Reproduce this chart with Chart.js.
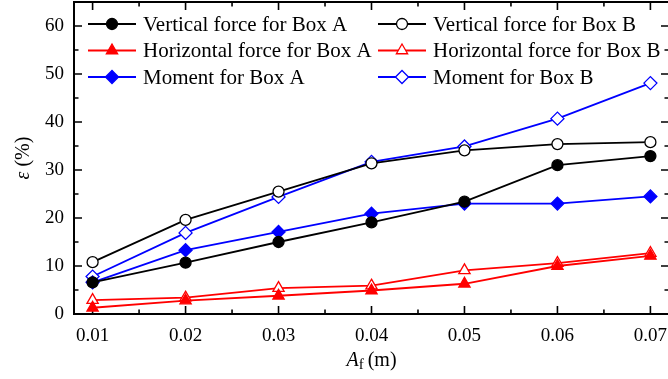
<!DOCTYPE html>
<html>
<head>
<meta charset="utf-8">
<style>
  html, body { margin: 0; padding: 0; background: #fff; overflow: hidden; }
  canvas { display: block; }
</style>
<script src="https://cdn.jsdelivr.net/npm/chart.js@4/dist/chart.umd.min.js"></script>
</head>
<body>
<canvas id="chart" width="680" height="379"></canvas>
<script>
// Relative error (%) against friction amplitude A_f (m)
const amplitudes = [0.01, 0.02, 0.03, 0.04, 0.05, 0.06, 0.07];
const verticalA   = [6.6, 10.7, 15.0, 19.1, 23.4, 31.0, 32.9];
const verticalB   = [10.8, 19.6, 25.5, 31.4, 34.1, 35.4, 35.8];
const horizontalA = [1.3, 2.8, 3.8, 4.9, 6.3, 10.0, 12.1];
const horizontalB = [2.9, 3.4, 5.4, 5.9, 9.1, 10.6, 12.7];
const momentA     = [6.6, 13.3, 17.1, 20.9, 23.0, 23.0, 24.5];
const momentB     = [7.8, 16.9, 24.4, 31.7, 34.9, 40.7, 48.1];

const xTicks = [0.01, 0.02, 0.03, 0.04, 0.05, 0.06, 0.07];
const xTickLabels = ['0.01', '0.02', '0.03', '0.04', '0.05', '0.06', '0.07'];
const yTicks = [0, 10, 20, 30, 40, 50, 60];
const yTickLabels = ['0', '10', '20', '30', '40', '50', '60'];

const SERIF = '"Liberation Serif", "Times New Roman", serif';

function series(label, values, color, style, filled) {
  return {
    label,
    data: amplitudes.map((x, i) => ({ x, y: values[i] })),
    borderColor: color,
    backgroundColor: filled ? color : '#ffffff',
    borderWidth: 1.8,
    pointStyle: style,
    pointRadius: style === 'circle' ? 5.5 : 6.5,
    pointBorderWidth: 1.3,
    pointBackgroundColor: filled ? color : '#ffffff',
    pointBorderColor: color,
    tension: 0,
    fill: false
  };
}

const datasets = [
  series('Vertical force for Box A', verticalA, '#000000', 'circle', true),
  series('Vertical force for Box B', verticalB, '#000000', 'circle', false),
  series('Horizontal force for Box A', horizontalA, '#ff0000', 'triangle', true),
  series('Horizontal force for Box B', horizontalB, '#ff0000', 'triangle', false),
  series('Moment for Box A', momentA, '#0000ff', 'rectRot', true),
  series('Moment for Box B', momentB, '#0000ff', 'rectRot', false)
];

// Frame with inward major/minor ticks on all four sides
const framePlugin = {
  id: 'frame',
  beforeDatasetsDraw(chart) {
    const { ctx, chartArea: a, scales: { x, y } } = chart;
    ctx.save();
    ctx.strokeStyle = '#000';
    ctx.lineWidth = 1.6;
    const major = 8, minor = 4.5;
    ctx.beginPath();
    xTicks.forEach((v, i) => {
      const px = x.getPixelForValue(v);
      ctx.moveTo(px, a.bottom); ctx.lineTo(px, a.bottom - major);
      ctx.moveTo(px, a.top); ctx.lineTo(px, a.top + major);
      if (i < xTicks.length - 1) {
        const mx = x.getPixelForValue((v + xTicks[i + 1]) / 2);
        ctx.moveTo(mx, a.bottom); ctx.lineTo(mx, a.bottom - minor);
        ctx.moveTo(mx, a.top); ctx.lineTo(mx, a.top + minor);
      }
    });
    const yMinor = yTicks.map(v => v + 5);
    yTicks.forEach(v => {
      const py = y.getPixelForValue(v);
      ctx.moveTo(a.left, py); ctx.lineTo(a.left + major, py);
      ctx.moveTo(a.right, py); ctx.lineTo(a.right - major, py);
    });
    yMinor.forEach(v => {
      if (v >= y.max) return;
      const py = y.getPixelForValue(v);
      ctx.moveTo(a.left, py); ctx.lineTo(a.left + minor, py);
      ctx.moveTo(a.right, py); ctx.lineTo(a.right - minor, py);
    });
    ctx.stroke();
    ctx.lineWidth = 2;
    ctx.strokeRect(a.left, a.top, a.right - a.left, a.bottom - a.top);
    ctx.restore();
  }
};

// Two-column legend and the axis titles
const annotatePlugin = {
  id: 'annotate',
  afterDraw(chart) {
    const { ctx, chartArea: a } = chart;
    ctx.save();
    const cols = [88, 378], rows = [24, 50.5, 77], lineLen = 48;
    chart.data.datasets.forEach((ds, i) => {
      const lx = cols[i % 2], ly = rows[Math.floor(i / 2)];
      ctx.strokeStyle = ds.borderColor;
      ctx.lineWidth = ds.borderWidth;
      ctx.beginPath();
      ctx.moveTo(lx, ly); ctx.lineTo(lx + lineLen, ly);
      ctx.stroke();
      ctx.fillStyle = ds.pointBackgroundColor;
      ctx.strokeStyle = ds.pointBorderColor;
      ctx.lineWidth = ds.pointBorderWidth;
      Chart.helpers.drawPoint(ctx, { pointStyle: ds.pointStyle, radius: ds.pointRadius, borderWidth: ds.pointBorderWidth, rotation: 0 }, lx + lineLen / 2, ly);
      ctx.fillStyle = '#000';
      ctx.font = '21px ' + SERIF;
      ctx.textBaseline = 'middle';
      ctx.textAlign = 'left';
      ctx.fillText(ds.label, lx + lineLen + 7, ly + 1);
    });

    // x-axis title: A_f (m)
    ctx.fillStyle = '#000';
    ctx.textBaseline = 'alphabetic';
    const cx = (a.left + a.right) / 2, by = 366;
    const partA = 'A', partF = 'f', partM = '(m)';
    ctx.font = 'italic 20px ' + SERIF;
    const wA = ctx.measureText(partA).width;
    ctx.font = '15px ' + SERIF;
    const wF = ctx.measureText(partF).width + 4;
    ctx.font = '20px ' + SERIF;
    const wM = ctx.measureText(partM).width;
    let sx = cx - (wA + wF + wM) / 2;
    ctx.textAlign = 'left';
    ctx.font = 'italic 20px ' + SERIF;
    ctx.fillText(partA, sx, by); sx += wA;
    ctx.font = '15px ' + SERIF;
    ctx.fillText(partF, sx, by + 3); sx += wF;
    ctx.font = '20px ' + SERIF;
    ctx.fillText(partM, sx, by);

    // y-axis title: ε (%)
    ctx.translate(29, (a.top + a.bottom) / 2);
    ctx.rotate(-Math.PI / 2);
    ctx.font = 'italic 20px ' + SERIF;
    const wE = ctx.measureText('ε').width;
    ctx.font = '20px ' + SERIF;
    const wP = ctx.measureText(' (%)').width;
    let ty = -(wE + wP) / 2;
    ctx.font = 'italic 20px ' + SERIF;
    ctx.fillText('ε', ty, 0); ty += wE;
    ctx.font = '20px ' + SERIF;
    ctx.fillText(' (%)', ty, 0);
    ctx.restore();
  }
};

new Chart(document.getElementById('chart'), {
  type: 'line',
  data: { datasets },
  options: {
    responsive: false,
    animation: false,
    devicePixelRatio: 1,
    layout: { autoPadding: false, padding: { top: 2, right: 11, left: 0, bottom: 0 } },
    plugins: { legend: { display: false }, tooltip: { enabled: false } },
    scales: {
      x: {
        type: 'linear',
        min: 0.008,
        max: 0.072,
        afterBuildTicks: s => { s.ticks = xTicks.map(v => ({ value: v })); },
        afterFit: s => { s.height = 65; s.paddingLeft = 0; s.paddingRight = 0; },
        grid: { display: false, drawTicks: false },
        border: { display: false },
        ticks: {
          color: '#000',
          font: { family: SERIF, size: 19 },
          padding: 11,
          maxRotation: 0,
          autoSkip: false,
          callback: (v, i) => xTickLabels[i]
        }
      },
      y: {
        min: 0,
        max: 65,
        afterBuildTicks: s => { s.ticks = yTicks.map(v => ({ value: v })); },
        afterFit: s => { s.width = 74; s.paddingTop = 0; s.paddingBottom = 0; },
        grid: { display: false, drawTicks: false },
        border: { display: false },
        ticks: {
          color: '#000',
          font: { family: SERIF, size: 19 },
          padding: 10,
          autoSkip: false,
          callback: (v, i) => yTickLabels[i]
        }
      }
    }
  },
  plugins: [framePlugin, annotatePlugin]
});
</script>
</body>
</html>
